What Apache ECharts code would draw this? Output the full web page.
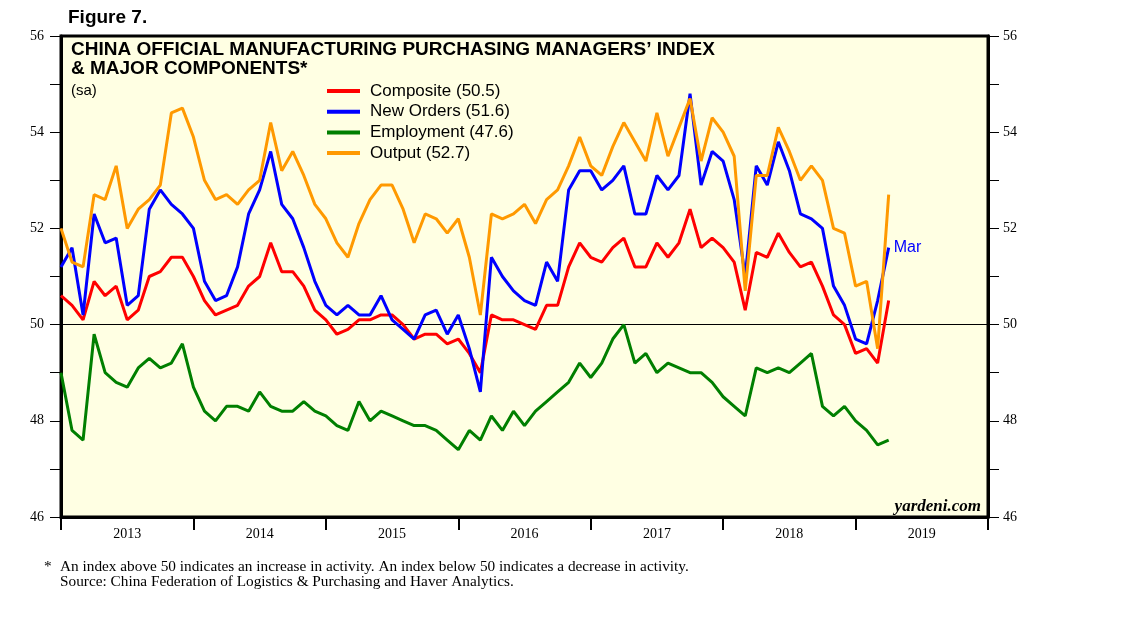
<!DOCTYPE html>
<html>
<head>
<meta charset="utf-8">
<script src="https://cdn.jsdelivr.net/npm/echarts/dist/echarts.min.js"></script>
<style>
html,body{margin:0;padding:0;background:#fff;}
#chart{width:1138px;height:621px;}
</style>
</head>
<body>
<div id="chart"></div>
<script>
// Monthly data, Dec 2012 .. Mar 2019 (index 0 = Dec 2012, plotted at month end)
const years = ['2013','2014','2015','2016','2017','2018','2019'];
const composite = [50.6,
  50.4,50.1,50.9,50.6,50.8,50.1,50.3,51.0,51.1,51.4,51.4,51.0,
  50.5,50.2,50.3,50.4,50.8,51.0,51.7,51.1,51.1,50.8,50.3,50.1,
  49.8,49.9,50.1,50.1,50.2,50.2,50.0,49.7,49.8,49.8,49.6,49.7,
  49.4,49.0,50.2,50.1,50.1,50.0,49.9,50.4,50.4,51.2,51.7,51.4,
  51.3,51.6,51.8,51.2,51.2,51.7,51.4,51.7,52.4,51.6,51.8,51.6,
  51.3,50.3,51.5,51.4,51.9,51.5,51.2,51.3,50.8,50.2,50.0,49.4,
  49.5,49.2,50.5];
const newOrders = [51.2,
  51.6,50.2,52.3,51.7,51.8,50.4,50.6,52.4,52.8,52.5,52.3,52.0,
  50.9,50.5,50.6,51.2,52.3,52.8,53.6,52.5,52.2,51.6,50.9,50.4,
  50.2,50.4,50.2,50.2,50.6,50.1,49.9,49.7,50.2,50.3,49.8,50.2,
  49.5,48.6,51.4,51.0,50.7,50.5,50.4,51.3,50.9,52.8,53.2,53.2,
  52.8,53.0,53.3,52.3,52.3,53.1,52.8,53.1,54.8,52.9,53.6,53.4,
  52.6,51.0,53.3,52.9,53.8,53.2,52.3,52.2,52.0,50.8,50.4,49.7,
  49.6,50.5,51.6];
const employment = [49.0,
  47.8,47.6,49.8,49.0,48.8,48.7,49.1,49.3,49.1,49.2,49.6,48.7,
  48.2,48.0,48.3,48.3,48.2,48.6,48.3,48.2,48.2,48.4,48.2,48.1,
  47.9,47.8,48.4,48.0,48.2,48.1,48.0,47.9,47.9,47.8,47.6,47.4,
  47.8,47.6,48.1,47.8,48.2,47.9,48.2,48.4,48.6,48.8,49.2,48.9,
  49.2,49.7,50.0,49.2,49.4,49.0,49.2,49.1,49.0,49.0,48.8,48.5,
  48.3,48.1,49.1,49.0,49.1,49.0,49.2,49.4,48.3,48.1,48.3,48.0,
  47.8,47.5,47.6];
const output = [52.0,
  51.3,51.2,52.7,52.6,53.3,52.0,52.4,52.6,52.9,54.4,54.5,53.9,
  53.0,52.6,52.7,52.5,52.8,53.0,54.2,53.2,53.6,53.1,52.5,52.2,
  51.7,51.4,52.1,52.6,52.9,52.9,52.4,51.7,52.3,52.2,51.9,52.2,
  51.4,50.2,52.3,52.2,52.3,52.5,52.1,52.6,52.8,53.3,53.9,53.3,
  53.1,53.7,54.2,53.8,53.4,54.4,53.5,54.1,54.7,53.4,54.3,54.0,
  53.5,50.7,53.1,53.1,54.1,53.6,53.0,53.3,53.0,52.0,51.9,50.8,
  50.9,49.5,52.7];
const seriesNames = ['Composite','New Orders','Employment','Output'];
const seriesColors = ['#FF0000','#0000FF','#007F00','#FF9900'];
const lastMonthLabel = 'Mar';
const yMin = 46, yMax = 56, yStep = 1;
const refLevel = 50;

const allSeries = [composite, newOrders, employment, output];
const toPairs = arr => arr.map((v, i) => [i, v]);

const SANS = '"Liberation Sans", Arial, Helvetica, sans-serif';
const SERIF = '"Liberation Serif", "Times New Roman", serif';

const chart = echarts.init(document.getElementById('chart'), null, {renderer: 'canvas'});

const legendTop = 91, legendStep = 20.7;
const graphics = [
  {type:'text', left:68, top:8, style:{text:'Figure 7.', font:'bold 19px ' + SANS, fill:'#000'}},
  {type:'text', left:71, top:40, style:{text:"CHINA OFFICIAL MANUFACTURING PURCHASING MANAGERS\u2019 INDEX", font:'bold 19px ' + SANS, fill:'#000'}},
  {type:'text', left:71, top:59, style:{text:'& MAJOR COMPONENTS*', font:'bold 19px ' + SANS, fill:'#000'}},
  {type:'text', left:71, top:83, style:{text:'(sa)', font:'15px ' + SANS, fill:'#000'}},
  {type:'text', right:1138-981, top:498, style:{text:'yardeni.com', font:'italic bold 17px ' + SERIF, fill:'#000', textAlign:'right'}},
  {type:'text', left:44, top:559, style:{text:'*', font:'15.3px ' + SERIF, fill:'#000'}},
  {type:'text', left:60, top:559, style:{text:'An index above 50 indicates an increase in activity. An index below 50 indicates a decrease in activity.', font:'15.3px ' + SERIF, fill:'#000'}},
  {type:'text', left:60, top:574, style:{text:'Source: China Federation of Logistics & Purchasing and Haver Analytics.', font:'15.3px ' + SERIF, fill:'#000'}}
];
seriesNames.forEach((n, i) => {
  const arr = allSeries[i];
  const y = legendTop + i * legendStep;
  graphics.push({type:'rect', shape:{x:327, y:y-2, width:33, height:4}, style:{fill:seriesColors[i]}});
  graphics.push({type:'text', x:370, y:y, style:{text:n + ' (' + arr[arr.length-1].toFixed(1) + ')', font:'17px ' + SANS, fill:'#000', textVerticalAlign:'middle'}});
});

const series = seriesNames.map((n, i) => ({
  name: n,
  type: 'line',
  xAxisIndex: 1,
  yAxisIndex: 0,
  data: toPairs(allSeries[i]),
  showSymbol: false,
  symbol: 'none',
  lineStyle: {color: seriesColors[i], width: 3},
  itemStyle: {color: seriesColors[i]},
  z: 3 + i,
  animation: false
}));
series[1].endLabel = {show:true, formatter: lastMonthLabel, color:'#0000FF', fontSize:16, fontFamily: SANS, distance:5};
series[0].markLine = {
  silent:true, symbol:'none', label:{show:false},
  lineStyle:{color:'#000', width:1, type:'solid'},
  data:[{yAxis: refLevel}], animation:false, z:2
};

const yAxisCommon = {
  type:'value', min:yMin, max:yMax, interval:yStep,
  axisLine:{show:true, lineStyle:{color:'#000', width:3}},
  axisTick:{show:true, inside:false, length:11, lineStyle:{color:'#000', width:1}},
  splitLine:{show:false},
  axisLabel:{fontFamily:SERIF, fontSize:14, color:'#000', margin:17,
    formatter: v => (v % 2 === 0 ? String(v) : '')}
};

chart.setOption({
  animation:false,
  backgroundColor:'#ffffff',
  grid:{left:61, right:150, top:36, bottom:104, show:true, backgroundColor:'#FFFFE3', borderColor:'#000', borderWidth:3, containLabel:false},
  xAxis:[
    {type:'category', data:years, boundaryGap:true, position:'bottom',
      axisLine:{show:true, lineStyle:{color:'#000', width:3}},
      axisTick:{show:true, inside:false, length:13, interval:0, lineStyle:{color:'#000', width:2}},
      axisLabel:{fontFamily:SERIF, fontSize:14, color:'#000', margin:10, interval:0},
      splitLine:{show:false}},
    {type:'value', min:0, max:84, show:false, splitLine:{show:false}}
  ],
  yAxis:[
    Object.assign({position:'left'}, yAxisCommon),
    Object.assign({position:'right'}, yAxisCommon, {axisLabel:Object.assign({}, yAxisCommon.axisLabel, {margin:15})})
  ],
  graphic: graphics,
  series: series
});
</script>
</body>
</html>
